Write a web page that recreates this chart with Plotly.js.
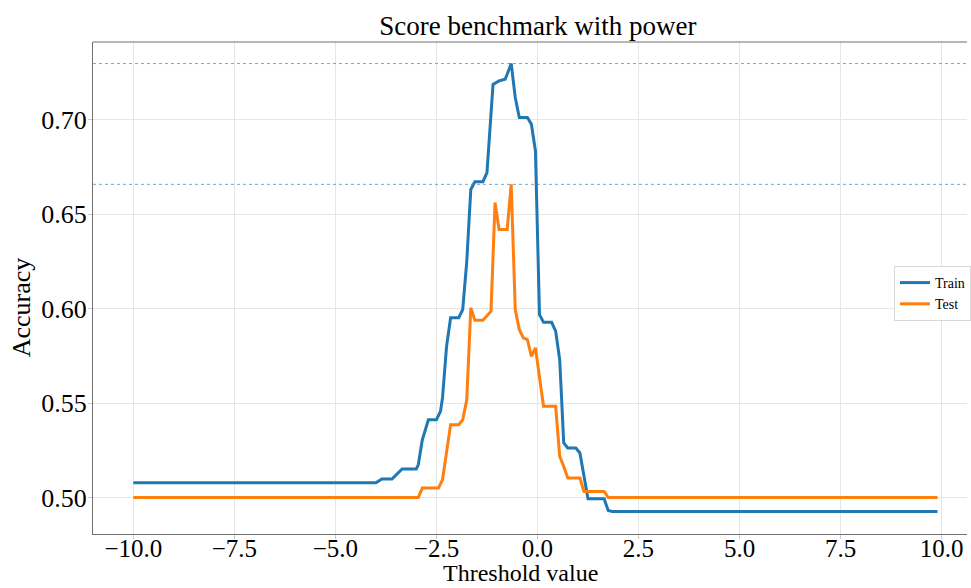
<!DOCTYPE html>
<html>
<head>
<meta charset="utf-8">
<script src="https://cdn.plot.ly/plotly-3.0.1.min.js"></script>
<style>html,body{margin:0;padding:0;background:#fff;}#chart{width:971px;height:588px;}</style>
</head>
<body>
<div id="chart"></div>
<script>
// Train curve (vertices)
var trainX = [-10, -4.0, -3.85, -3.6, -3.35, -3.0, -2.95, -2.85, -2.7, -2.5, -2.4, -2.35, -2.25, -2.15, -1.95, -1.85, -1.75, -1.65, -1.55, -1.35, -1.25, -1.1, -0.95, -0.8, -0.75, -0.65, -0.55, -0.45, -0.25, -0.15, -0.05, 0.05, 0.15, 0.35, 0.45, 0.55, 0.65, 0.75, 0.95, 1.05, 1.25, 1.65, 1.75, 1.85, 9.9];
var trainY = [0.5078, 0.5078, 0.5098, 0.5098, 0.5151, 0.5151, 0.5173, 0.5306, 0.5412, 0.5412, 0.5456, 0.5529, 0.5800, 0.5952, 0.5952, 0.5996, 0.6250, 0.6632, 0.6673, 0.6673, 0.6721, 0.7189, 0.7207, 0.7216, 0.7242, 0.7299, 0.7119, 0.7013, 0.7013, 0.6977, 0.6836, 0.5969, 0.5928, 0.5928, 0.5881, 0.5731, 0.5289, 0.5262, 0.5262, 0.5236, 0.4993, 0.4993, 0.4931, 0.4926, 0.4926];
// Test curve
var testX = [-10, -2.95, -2.85, -2.45, -2.35, -2.15, -1.95, -1.85, -1.75, -1.65, -1.55, -1.35, -1.15, -1.05, -0.95, -0.75, -0.65, -0.55, -0.45, -0.35, -0.25, -0.15, -0.05, 0.15, 0.45, 0.55, 0.65, 0.75, 1.05, 1.15, 1.65, 1.75, 9.9];
var testY = [0.5, 0.5, 0.505, 0.505, 0.5094, 0.5386, 0.5386, 0.5412, 0.5518, 0.6005, 0.5939, 0.5939, 0.5987, 0.6562, 0.642, 0.642, 0.6659, 0.5996, 0.589, 0.5846, 0.5837, 0.5748, 0.5793, 0.5483, 0.5483, 0.5218, 0.5164, 0.5103, 0.5103, 0.5032, 0.5032, 0.5, 0.5];
// Reference lines (best train / best test)
var bestLines = [0.7299, 0.6659];
var seriesNames = ["Train", "Test"];
var xTicks = [-10, -7.5, -5, -2.5, 0, 2.5, 5, 7.5, 10];
var xTickText = ["\u221210.0", "\u22127.5", "\u22125.0", "\u22122.5", "0.0", "2.5", "5.0", "7.5", "10.0"];
var yTicks = [0.50, 0.55, 0.60, 0.65, 0.70];
var yTickText = ["0.50", "0.55", "0.60", "0.65", "0.70"];
var titleText = "Score benchmark with power";
var xTitle = "Threshold value";
var yTitle = "Accuracy";

var serif = "Liberation Serif, Times New Roman, serif";

var traces = [
  {x: trainX, y: trainY, type: "scatter", mode: "lines", name: seriesNames[0],
   line: {color: "#1f77b4", width: 3}},
  {x: testX, y: testY, type: "scatter", mode: "lines", name: seriesNames[1],
   line: {color: "#ff7f0e", width: 3}}
];

var shapes = bestLines.map(function (v) {
  return {type: "line", xref: "paper", x0: 0, x1: 1, yref: "y", y0: v, y1: v,
          line: {color: "rgba(60,140,200,0.75)", width: 1, dash: "dot"}, layer: "above"};
});
shapes.push({type: "line", xref: "paper", x0: 0, x1: 1, yref: "paper", y0: 1, y1: 1,
             line: {color: "#707070", width: 1.2}});

var layout = {
  width: 971, height: 588,
  margin: {l: 93, r: 0, t: 42, b: 54, pad: 0},
  paper_bgcolor: "#fff", plot_bgcolor: "#fff",
  title: {text: titleText, font: {family: serif, size: 27, color: "#000"},
          x: 0.554, xanchor: "center", y: 0.957, yanchor: "middle"},
  showlegend: true,
  legend: {x: 0.917, y: 0.5447, xanchor: "left", yanchor: "top",
           font: {family: serif, size: 14, color: "#000"},
           bgcolor: "#fff", bordercolor: "#d8d8d8", borderwidth: 1,
           tracegroupgap: 0, itemwidth: 30},
  xaxis: {range: [-11.0, 10.63], tickvals: xTicks, ticktext: xTickText, automargin: false,
          showgrid: true, gridcolor: "#e6e6e6", gridwidth: 1, zeroline: false,
          showline: true, linecolor: "#707070", linewidth: 1.2,
          ticks: "outside", ticklen: 4, tickcolor: "#c8c8c8",
          ticklabelstandoff: -12,
          tickfont: {family: serif, size: 25, color: "#000"}},
  yaxis: {range: [0.48066, 0.74132], tickvals: yTicks, ticktext: yTickText, automargin: false,
          showgrid: true, gridcolor: "#e6e6e6", gridwidth: 1, zeroline: false,
          showline: true, linecolor: "#707070", linewidth: 1.2,
          ticks: "outside", ticklen: 4, tickcolor: "#c8c8c8",
          ticklabelstandoff: -4,
          tickfont: {family: serif, size: 26, color: "#000"}},
  annotations: [
    {text: xTitle, xref: "paper", yref: "paper", x: 0.4886, y: -0.0793,
     xanchor: "center", yanchor: "middle", showarrow: false,
     font: {family: serif, size: 24, color: "#000"}},
    {text: yTitle, xref: "paper", yref: "paper", x: -0.0809, y: 0.4614, textangle: -90,
     xanchor: "center", yanchor: "middle", showarrow: false,
     font: {family: serif, size: 26, color: "#000"}}
  ],
  shapes: shapes
};

Plotly.newPlot("chart", traces, layout, {displayModeBar: false, responsive: false});
</script>
</body>
</html>
